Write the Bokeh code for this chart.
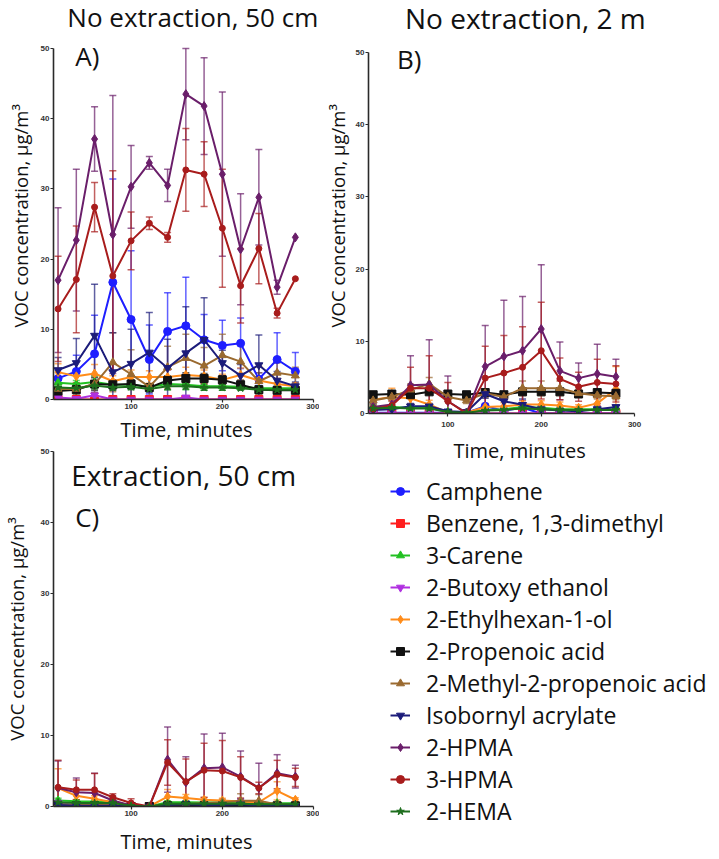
from bokeh.plotting import figure
from bokeh.models import (ColumnDataSource, Range1d, FixedTicker, Whisker, TeeHead,
                          Label, Title, Legend, LegendItem)
from bokeh.layouts import column, row
from bokeh.embed import file_html
from bokeh.resources import INLINE

# Sampling times (minutes)
time_min = [20, 40, 60, 80, 100, 120, 140, 160, 180, 200, 220, 240, 260, 280]

compounds = ["Camphene", "Benzene, 1,3-dimethyl", "3-Carene", "2-Butoxy ethanol",
             "2-Ethylhexan-1-ol", "2-Propenoic acid", "2-Methyl-2-propenoic acid",
             "Isobornyl acrylate", "2-HPMA", "3-HPMA", "2-HEMA"]
colors = ["#1e1eff", "#ff1e1e", "#22c022", "#b030e0", "#ff8c1a", "#111111",
          "#9a6a30", "#1c1c7a", "#6a1e6a", "#a81c1c", "#1e6e1e"]
markers = ["circle", "square", "triangle", "inverted_triangle", "diamond", "square",
           "triangle", "inverted_triangle", "diamond", "circle", "star"]
marker_sizes = [8, 8, 8, 8, 9, 8, 8, 8, 9, 6, 8]

# ---- A) No extraction, 50 cm : mean and SD (µg/m3)
camphene_A = [3.0, 4.0, 6.5, 16.7, 11.4, 5.7, 9.7, 10.5, 8.5, 7.7, 8.0, 2.9, 5.7, 4.0]
camphene_A_sd = [1.2, 2.3, 5.5, 14.7, 9.8, 4.9, 5.5, 6.9, 3.6, 3.6, 3.6, 0.9, 3.8, 2.7]
benzene_A = [0.0] * 14
benzene_A_sd = [0.0] * 14
carene_A = [2.4, 2.2, 2.5, 2.1, 2.1, 1.8, 2.2, 2.1, 1.9, 1.9, 1.8, 1.6, 1.6, 1.6]
carene_A_sd = [0.6, 0.5, 0.8, 0.5, 0.6, 0.4, 0.8, 0.7, 0.6, 0.6, 0.4, 0.3, 0.3, 0.3]
butoxy_A = [0.3, 0.1, 0.6, 0.0, 0.0, 0.0, 0.0, 0.3, 0.0, 0.0, 0.0, 0.0, 0.0, 0.0]
butoxy_A_sd = [0.3, 0.1, 0.4, 0.0, 0.0, 0.0, 0.0, 0.2, 0.0, 0.0, 0.0, 0.0, 0.0, 0.0]
ethylhexanol_A = [3.9, 3.3, 3.7, 2.6, 3.2, 3.2, 3.2, 3.5, 3.3, 2.8, 3.5, 2.7, 2.2, 1.9]
ethylhexanol_A_sd = [1.2, 0.9, 1.3, 0.8, 1.0, 0.9, 1.0, 1.1, 0.9, 0.8, 1.0, 2.0, 0.8, 0.5]
propenoic_A = [1.2, 1.4, 2.2, 2.1, 2.2, 1.7, 2.7, 3.0, 3.0, 2.8, 2.1, 1.4, 1.3, 1.3]
propenoic_A_sd = [0.5, 0.8, 0.9, 0.7, 0.6, 0.5, 0.7, 0.8, 0.7, 0.6, 0.5, 0.5, 0.4, 0.4]
methylpropenoic_A = [1.5, 1.5, 2.2, 5.3, 3.6, 1.8, 4.6, 5.9, 4.8, 6.3, 5.4, 2.6, 3.8, 3.4]
methylpropenoic_A_sd = [0.8, 0.9, 1.2, 4.2, 3.5, 1.4, 3.0, 3.4, 2.6, 3.0, 2.6, 1.2, 1.4, 1.2]
isobornyl_A = [4.2, 5.2, 9.1, 3.9, 5.1, 6.7, 4.5, 6.6, 8.5, 5.2, 3.4, 4.9, 2.7, 1.9]
isobornyl_A_sd = [1.8, 3.5, 7.3, 5.6, 4.9, 5.7, 4.1, 6.6, 6.0, 1.8, 1.6, 4.3, 1.3, 0.6]
hpma2_A = [17.0, 22.7, 37.1, 23.5, 30.3, 33.7, 30.5, 43.5, 41.8, 32.1, 21.4, 28.8, 16.0, 23.1]
hpma2_A_sd = [10.3, 10.1, 4.6, 19.8, 5.9, 0.9, 2.3, 6.5, 6.9, 11.7, 7.9, 6.8, 1.0, 0.0]
hpma3_A = [12.9, 17.1, 27.4, 17.6, 22.6, 25.1, 23.1, 32.7, 32.1, 24.4, 16.2, 21.5, 12.3, 17.2]
hpma3_A_sd = [7.5, 7.6, 3.5, 15.0, 4.1, 0.9, 0.7, 5.9, 4.6, 8.4, 5.3, 5.0, 0.7, 0.0]
hema_A = [1.7, 1.6, 2.0, 1.7, 1.8, 1.5, 1.9, 1.9, 1.7, 1.7, 1.6, 1.4, 1.4, 1.4]
hema_A_sd = [0.4, 0.4, 0.5, 0.4, 0.4, 0.3, 0.5, 0.4, 0.4, 0.4, 0.3, 0.3, 0.3, 0.3]

# ---- B) No extraction, 2 m
camphene_B = [0.1, 0.1, 0.1, 0.1, 0.1, 0.1, 1.0, 0.4, 0.8, 0.0, 0.0, 0.0, 0.0, 0.0]
camphene_B_sd = [0.0, 0.0, 0.0, 0.0, 0.0, 0.0, 1.7, 0.6, 1.0, 0.0, 0.0, 0.0, 0.0, 0.0]
benzene_B = [0.0] * 14
benzene_B_sd = [0.0] * 14
carene_B = [0.9, 0.9, 0.8, 0.8, 0.2, 0.1, 0.5, 0.6, 0.9, 0.8, 0.6, 0.6, 0.6, 0.6]
carene_B_sd = [0.3, 0.3, 0.3, 0.3, 0.1, 0.1, 0.3, 0.3, 0.3, 0.3, 0.3, 0.2, 0.2, 0.2]
butoxy_B = [0.0] * 14
butoxy_B_sd = [0.0] * 14
ethylhexanol_B = [1.9, 2.3, 2.1, 1.25, 0.1, 0.1, 0.9, 1.0, 1.25, 1.25, 1.1, 0.8, 1.4, 3.4]
ethylhexanol_B_sd = [0.8, 1.2, 0.8, 0.6, 0.2, 0.1, 0.5, 0.5, 0.5, 0.5, 0.5, 0.4, 0.8, 3.1]
propenoic_B = [2.6, 2.7, 2.6, 3.0, 2.7, 2.6, 2.9, 2.6, 3.0, 3.0, 3.0, 2.7, 2.9, 2.8]
propenoic_B_sd = [0.3, 0.3, 0.3, 0.3, 0.3, 0.2, 0.3, 0.3, 0.3, 0.3, 0.3, 0.3, 0.3, 0.3]
methylpropenoic_B = [1.8, 2.3, 3.3, 4.1, 2.3, 1.8, 2.8, 2.3, 3.5, 3.5, 3.5, 2.8, 2.5, 2.4]
methylpropenoic_B_sd = [0.5, 0.6, 0.8, 0.9, 0.5, 0.4, 0.6, 0.5, 1.0, 1.0, 1.0, 0.5, 0.5, 0.5]
isobornyl_B = [0.5, 0.6, 1.0, 1.0, 0.3, 0.2, 2.7, 1.7, 1.2, 0.6, 0.4, 0.3, 0.6, 0.9]
isobornyl_B_sd = [0.3, 0.3, 0.4, 0.4, 0.2, 0.1, 0.6, 1.0, 0.8, 0.5, 0.3, 0.2, 0.3, 0.3]
hpma2_B = [0.9, 1.25, 3.9, 4.0, 1.7, 0.1, 6.5, 7.9, 8.7, 11.7, 5.9, 4.9, 5.5, 5.1]
hpma2_B_sd = [0.5, 0.9, 4.1, 6.2, 3.5, 0.1, 5.7, 7.8, 7.5, 8.9, 4.0, 2.1, 4.1, 2.4]
hpma3_B = [0.6, 1.1, 3.5, 3.5, 1.7, 0.0, 4.9, 5.6, 6.4, 8.7, 4.8, 3.7, 4.3, 4.1]
hpma3_B_sd = [0.4, 0.7, 2.9, 4.5, 2.6, 0.0, 4.4, 5.2, 5.6, 6.7, 2.9, 2.0, 3.2, 2.5]
hema_B = [0.7, 0.8, 0.7, 0.7, 0.2, 0.1, 0.4, 0.5, 0.7, 0.6, 0.5, 0.5, 0.5, 0.5]
hema_B_sd = [0.2, 0.2, 0.2, 0.2, 0.1, 0.1, 0.2, 0.2, 0.2, 0.2, 0.2, 0.2, 0.2, 0.2]

# ---- C) Extraction, 50 cm
camphene_C = [0.0, 0.0, 0.0, 0.0, 0.0, 0.0, 0.0, 0.3, 0.0, 0.0, 0.5, 0.0, 0.0, 0.0]
camphene_C_sd = [0.0, 0.0, 0.0, 0.0, 0.0, 0.0, 0.0, 0.5, 0.0, 0.0, 0.6, 0.0, 0.0, 0.0]
benzene_C = [0.0] * 14
benzene_C_sd = [0.0] * 14
carene_C = [0.85, 0.75, 0.7, 0.7, 0.1, 0.0, 0.6, 0.6, 0.55, 0.55, 0.6, 0.45, 0.45, 0.45]
carene_C_sd = [0.3, 0.2, 0.2, 0.2, 0.1, 0.0, 0.2, 0.2, 0.2, 0.2, 0.2, 0.1, 0.1, 0.1]
butoxy_C = [0.5, 0.2, 0.1, 0.0, 0.0, 0.0, 0.0, 0.0, 0.0, 0.0, 0.0, 0.0, 0.0, 0.0]
butoxy_C_sd = [0.4, 0.1, 0.1, 0.0, 0.0, 0.0, 0.0, 0.0, 0.0, 0.0, 0.0, 0.0, 0.0, 0.0]
ethylhexanol_C = [2.6, 1.5, 1.1, 0.6, 0.1, 0.0, 1.4, 1.2, 0.95, 0.85, 0.7, 0.6, 2.2, 0.95]
ethylhexanol_C_sd = [2.7, 0.5, 0.4, 0.3, 0.1, 0.0, 1.0, 0.5, 0.3, 0.3, 0.3, 0.2, 1.3, 0.3]
propenoic_C = [0.1, 0.1, 0.1, 0.1, 0.0, 0.0, 0.1, 0.1, 0.1, 0.1, 0.1, 0.1, 0.1, 0.1]
propenoic_C_sd = [0.1, 0.1, 0.1, 0.1, 0.0, 0.0, 0.1, 0.1, 0.1, 0.1, 0.1, 0.1, 0.1, 0.1]
methylpropenoic_C = [0.3, 0.2, 0.2, 0.2, 0.1, 0.0, 0.3, 0.3, 0.5, 0.6, 0.8, 0.8, 0.3, 0.2]
methylpropenoic_C_sd = [0.2, 0.1, 0.1, 0.1, 0.1, 0.0, 0.2, 0.2, 0.3, 0.4, 1.0, 0.9, 0.2, 0.1]
isobornyl_C = [0.2, 0.1, 0.1, 0.1, 0.0, 0.0, 0.2, 0.3, 0.2, 0.2, 0.3, 0.1, 0.1, 0.1]
isobornyl_C_sd = [0.1, 0.1, 0.1, 0.1, 0.0, 0.0, 0.2, 0.3, 0.2, 0.2, 0.4, 0.1, 0.1, 0.1]
hpma2_C = [2.6, 2.0, 1.9, 0.85, 0.15, 0.0, 6.6, 3.4, 5.4, 5.5, 4.2, 2.6, 4.7, 4.2]
hpma2_C_sd = [3.8, 2.0, 2.8, 0.6, 0.3, 0.0, 4.6, 3.6, 4.8, 4.8, 3.6, 3.5, 2.6, 1.6]
hpma3_C = [2.7, 2.35, 2.35, 1.3, 0.5, 0.0, 6.2, 3.5, 5.1, 5.0, 4.1, 2.6, 4.5, 4.1]
hpma3_C_sd = [3.8, 1.4, 2.3, 0.5, 0.6, 0.0, 3.2, 3.2, 3.8, 4.3, 2.9, 0.8, 2.0, 1.3]
hema_C = [0.6, 0.5, 0.5, 0.5, 0.1, 0.0, 0.4, 0.4, 0.4, 0.4, 0.4, 0.3, 0.3, 0.3]
hema_C_sd = [0.2, 0.2, 0.2, 0.2, 0.1, 0.0, 0.2, 0.2, 0.2, 0.2, 0.2, 0.1, 0.1, 0.1]

panel_A = [(camphene_A, camphene_A_sd), (benzene_A, benzene_A_sd), (carene_A, carene_A_sd),
           (butoxy_A, butoxy_A_sd), (ethylhexanol_A, ethylhexanol_A_sd),
           (propenoic_A, propenoic_A_sd), (methylpropenoic_A, methylpropenoic_A_sd),
           (isobornyl_A, isobornyl_A_sd), (hpma2_A, hpma2_A_sd), (hpma3_A, hpma3_A_sd),
           (hema_A, hema_A_sd)]
panel_B = [(camphene_B, camphene_B_sd), (benzene_B, benzene_B_sd), (carene_B, carene_B_sd),
           (butoxy_B, butoxy_B_sd), (ethylhexanol_B, ethylhexanol_B_sd),
           (propenoic_B, propenoic_B_sd), (methylpropenoic_B, methylpropenoic_B_sd),
           (isobornyl_B, isobornyl_B_sd), (hpma2_B, hpma2_B_sd), (hpma3_B, hpma3_B_sd),
           (hema_B, hema_B_sd)]
panel_C = [(camphene_C, camphene_C_sd), (benzene_C, benzene_C_sd), (carene_C, carene_C_sd),
           (butoxy_C, butoxy_C_sd), (ethylhexanol_C, ethylhexanol_C_sd),
           (propenoic_C, propenoic_C_sd), (methylpropenoic_C, methylpropenoic_C_sd),
           (isobornyl_C, isobornyl_C_sd), (hpma2_C, hpma2_C_sd), (hpma3_C, hpma3_C_sd),
           (hema_C, hema_C_sd)]

y_ticks = [0, 10, 20, 30, 40, 50]
x_ticks = [100, 200, 300]

TEXT_FONT = "Open Sans"
TICK_FONT = "Liberation Sans"
Y_TITLE = "VOC concentration, µg/m³"
X_TITLE = "Time, minutes"


def make_panel(width, height, x_end, y_top, left, right, top, bottom):
    # the frame may run past the axes; axis bounds keep the drawn axes at 15-300 / 0-50
    p = figure(width=width, height=height, title=None,
               x_range=Range1d(15, x_end), y_range=Range1d(0, y_top),
               output_backend="svg", toolbar_location=None,
               min_border_left=left, min_border_right=right,
               min_border_top=top, min_border_bottom=bottom)
    p.grid.visible = False
    p.outline_line_color = None
    for ax in (p.xaxis[0], p.yaxis[0]):
        ax.axis_line_color = "#2a2a2a"
        ax.axis_line_width = 1.6
        ax.major_tick_line_color = "#2a2a2a"
        ax.major_tick_line_width = 1.2
        ax.major_tick_out = 3
        ax.major_tick_in = 0
        ax.minor_tick_line_color = None
        ax.major_label_text_font = TICK_FONT
        ax.major_label_text_font_size = "8px"
        ax.major_label_text_font_style = "bold"
        ax.major_label_text_color = "#333333"
        ax.major_label_standoff = 1
        ax.axis_label_text_font = TEXT_FONT
        ax.axis_label_text_font_style = "normal"
        ax.axis_label_text_color = "#111111"
    p.xaxis.ticker = FixedTicker(ticks=x_ticks)
    p.yaxis.ticker = FixedTicker(ticks=y_ticks)
    p.xaxis.bounds = (15, 300)
    p.yaxis.bounds = (0, 50)
    p.xaxis.axis_label_text_font_size = "20px"
    p.yaxis.axis_label_text_font_size = "18.5px"
    return p


def side_title(text, size, offset, standoff):
    return Title(text=text, align="left", offset=offset, standoff=standoff,
                 text_font=TEXT_FONT, text_font_size=size, text_font_style="normal",
                 text_color="#111111")


def text_label(x, y, text, size):
    return Label(x=x, y=y, text=text, text_font=TEXT_FONT, text_font_size=size,
                 text_color="#111111", text_baseline="alphabetic")


def draw_series(p, data):
    pairs = []
    # error bars underneath the lines
    for (mean, sd), color in zip(data, colors):
        xs = [t for t, s in zip(time_min, sd) if s > 0]
        hi = [m + s for m, s in zip(mean, sd) if s > 0]
        lo = [max(0.0, m - s) for m, s in zip(mean, sd) if s > 0]
        if not xs:
            continue
        src = ColumnDataSource(dict(x=xs, hi=hi, lo=lo))
        head = dict(size=7, line_color=color, line_alpha=0.7, line_width=1.5)
        p.add_layout(Whisker(source=src, base="x", upper="hi", lower="lo",
                             line_color=color, line_alpha=0.7, line_width=1.5,
                             upper_head=TeeHead(**head), lower_head=TeeHead(**head)))
    for (mean, sd), color, marker, size in zip(data, colors, markers, marker_sizes):
        src = ColumnDataSource(dict(x=time_min, y=mean))
        lr = p.line("x", "y", source=src, line_color=color, line_width=2)
        sr = p.scatter("x", "y", source=src, marker=marker, size=size,
                       fill_color=color, line_color=color)
        pairs.append((lr, sr))
    return pairs


# Panel A
pA = make_panel(319, 447, 15 + 269 / 0.923, 399 / 7.02, 50, 0, 0, 48)
pA.xaxis.axis_label = X_TITLE
pA.xaxis.axis_label_standoff = 4
pA.add_layout(side_title(Y_TITLE, "18.5px", 72, 9), "left")
draw_series(pA, panel_A)
pA.add_layout(text_label(30.2, 54.5, "No extraction, 50 cm", "26px"))
pA.add_layout(text_label(38.8, 48.96, "A)", "26px"))

# Panel C
pC = make_panel(319, 412, 15 + 269 / 0.923, 50, 50, 0, 4, 53)
pC.xaxis.axis_label = X_TITLE
pC.xaxis.axis_label_standoff = 9
pC.yaxis.axis_label = Y_TITLE
pC.yaxis.axis_label_standoff = 9
draw_series(pC, panel_C)
pC.add_layout(text_label(34.5, 46.7, "Extraction, 50 cm", "28px"))
pC.add_layout(text_label(38.8, 40.8, "C)", "26px"))

# Panel B
pB = make_panel(400, 473, 15 + 356 / 0.947, 413 / 7.22, 44, 0, 0, 60)
pB.xaxis.major_label_standoff = 5
pB.add_layout(side_title(Y_TITLE, "18.5px", 86, 6), "left")
pB.add_layout(side_title(X_TITLE, "20px", 85, 11), "below")
draw_series(pB, panel_B)
pB.add_layout(text_label(54.1, 54.78, "No extraction, 2 m", "28px"))
pB.add_layout(text_label(45.6, 49.07, "B)", "26px"))

# Legend panel shared by the three plots
pL = figure(width=400, height=386, title=None, x_range=Range1d(0, 1), y_range=Range1d(0, 1),
            x_axis_type=None, y_axis_type=None, output_backend="svg", toolbar_location=None,
            min_border_left=44, min_border_right=0, min_border_top=0, min_border_bottom=0)
pL.grid.visible = False
pL.outline_line_color = None
items = []
for name, color, marker, size in zip(compounds, colors, markers, marker_sizes):
    key = ColumnDataSource(dict(x=[float("nan")], y=[float("nan")]))
    lr = pL.line("x", "y", source=key, line_color=color, line_width=2)
    sr = pL.scatter("x", "y", source=key, marker=marker, size=size,
                    fill_color=color, line_color=color)
    items.append(LegendItem(label=name, renderers=[lr, sr]))
legend = Legend(items=items, location=(22, 32.5), orientation="vertical",
                label_text_font=TEXT_FONT, label_text_font_size="23px",
                label_text_color="#111111", label_standoff=16,
                glyph_width=20, glyph_height=20, label_height=31, spacing=0,
                padding=0, margin=0, border_line_color=None, background_fill_alpha=0)
pL.add_layout(legend, "center")

layout = row(column(pA, pC), column(pB, pL))
open("out.html", "w").write(file_html(layout, INLINE))
